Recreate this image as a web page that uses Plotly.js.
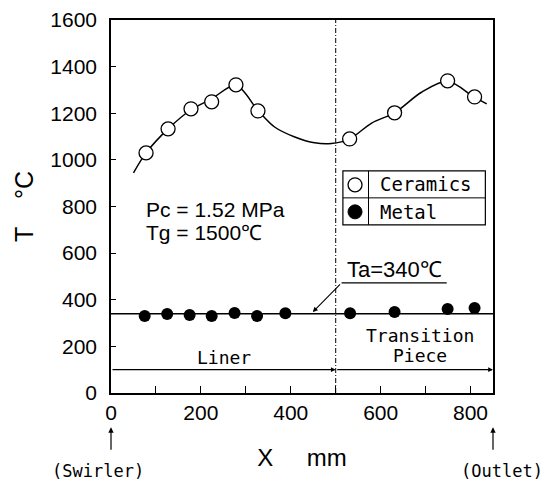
<!DOCTYPE html>
<html>
<head>
<meta charset="utf-8">
<script src="https://cdn.plot.ly/plotly-3.0.1.min.js"></script>
<style>html,body{margin:0;padding:0;background:#fff;}</style>
</head>
<body>
<div id="chart" style="width:550px;height:482px;"></div>
<script>
// ---- data ----
const ceramicsX = [78, 127, 178, 224, 278, 327, 531, 631, 749, 809];
const ceramicsT = [1030, 1133, 1219, 1249, 1322, 1210, 1090, 1202, 1339, 1270];
const metalX = [75, 125, 175, 224, 275, 325, 388, 532, 631, 749, 809];
const metalT = [330, 339, 335, 330, 343, 330, 342, 342, 347, 360, 365];
const fitX = [50, 78, 127, 178, 224, 278, 327, 364, 409, 453, 490, 531, 580, 631, 691, 749, 809, 836];
const fitT = [944, 1030, 1133, 1215, 1262, 1320, 1212, 1141, 1098, 1073, 1070, 1090, 1158, 1202, 1290, 1337, 1268, 1240];
const ambientT = 340;          // Ta = 340 °C
const sectionBoundaryX = 500;  // liner / transition piece boundary
const sectionArrowT = 100;
const xTickVals = [0, 200, 400, 600, 800];
const xTickText = ['0', '200', '400', '600', '800'];
const yTickVals = [0, 200, 400, 600, 800, 1000, 1200, 1400, 1600];
const yTickText = ['0', '200', '400', '600', '800', '1000', '1200', '1400', '1600'];
const xMax = 850;

const numFont = 'Liberation Sans, Arial, sans-serif';
const monoFont = 'DejaVu Sans Mono, Liberation Mono, monospace';

const traces = [
  {x: fitX, y: fitT, mode: 'lines', line: {color: '#000', width: 1.5, shape: 'spline', smoothing: 0.9},
   hoverinfo: 'skip', showlegend: false},
  {x: [0, xMax], y: [ambientT, ambientT], mode: 'lines', line: {color: '#000', width: 1.6},
   hoverinfo: 'skip', showlegend: false},
  {x: ceramicsX, y: ceramicsT, mode: 'markers', name: 'Ceramics',
   marker: {symbol: 'circle', size: 14, color: '#fff', line: {color: '#000', width: 1.3}}},
  {x: metalX, y: metalT, mode: 'markers', name: 'Metal',
   marker: {symbol: 'circle', size: 12, color: '#000', line: {color: '#000', width: 0}}}
];

const legendX0 = 516, legendX1 = 833, legendY0 = 721, legendY1 = 953, legendMidY = 837, legendColX = 573;
const shapes = [
  {type: 'line', xref: 'x', yref: 'paper', x0: sectionBoundaryX, x1: sectionBoundaryX, y0: 0, y1: 1,
   line: {color: '#000', width: 1, dash: '5px,2px,1px,2px'}},
  {type: 'line', xref: 'x', yref: 'y', x0: 513, x1: 747, y0: 472, y1: 472, line: {color: '#000', width: 1.2}},
  {type: 'rect', xref: 'x', yref: 'y', x0: legendX0, x1: legendX1, y0: legendY0, y1: legendY1,
   line: {color: '#000', width: 1.2}, fillcolor: '#fff'},
  {type: 'line', xref: 'x', yref: 'y', x0: legendX0, x1: legendX1, y0: legendMidY, y1: legendMidY,
   line: {color: '#000', width: 1}},
  {type: 'line', xref: 'x', yref: 'y', x0: legendColX, x1: legendColX, y0: legendY0, y1: legendY1,
   line: {color: '#000', width: 1}},
  {type: 'circle', xref: 'x', yref: 'y', xsizemode: 'pixel', ysizemode: 'pixel', xanchor: 543, yanchor: 893,
   x0: -7, x1: 7, y0: -7, y1: 7, line: {color: '#000', width: 1.3}, fillcolor: '#fff'},
  {type: 'circle', xref: 'x', yref: 'y', xsizemode: 'pixel', ysizemode: 'pixel', xanchor: 543, yanchor: 777,
   x0: -7, x1: 7, y0: -7, y1: 7, line: {color: '#000', width: 1}, fillcolor: '#000'}
];

const annotations = [
  {x: 76, y: 788, xref: 'x', yref: 'y', text: 'Pc = 1.52 MPa', showarrow: false, xanchor: 'left', yanchor: 'middle',
   font: {family: numFont, size: 21, color: '#000'}, borderpad: 0},
  {x: 76, y: 689, xref: 'x', yref: 'y', text: 'Tg = 1500℃', showarrow: false, xanchor: 'left', yanchor: 'middle',
   font: {family: numFont, size: 21, color: '#000'}, borderpad: 0},
  {x: 593, y: 895, xref: 'x', yref: 'y', text: 'Ceramics', showarrow: false, xanchor: 'left', yanchor: 'middle',
   font: {family: monoFont, size: 19, color: '#000'}},
  {x: 593, y: 777, xref: 'x', yref: 'y', text: 'Metal', showarrow: false, xanchor: 'left', yanchor: 'middle',
   font: {family: monoFont, size: 19, color: '#000'}},
  {x: 630, y: 528, xref: 'x', yref: 'y', text: 'Ta=340℃', showarrow: false, xanchor: 'center', yanchor: 'middle',
   font: {family: numFont, size: 22, color: '#000'}},
  {x: 449, y: 347, xref: 'x', yref: 'y', ax: 513, ay: 472, axref: 'x', ayref: 'y', text: '', showarrow: true,
   arrowhead: 2, arrowsize: 0.9, arrowwidth: 1.1, arrowcolor: '#000', standoff: 0},
  {x: 251, y: 154, xref: 'x', yref: 'y', text: 'Liner', showarrow: false, xanchor: 'center', yanchor: 'middle',
   font: {family: monoFont, size: 18, color: '#000'}},
  {x: 687, y: 245, xref: 'x', yref: 'y', text: 'Transition', showarrow: false, xanchor: 'center', yanchor: 'middle',
   font: {family: monoFont, size: 18, color: '#000'}},
  {x: 687, y: 162, xref: 'x', yref: 'y', text: 'Piece', showarrow: false, xanchor: 'center', yanchor: 'middle',
   font: {family: monoFont, size: 18, color: '#000'}},
  {x: sectionBoundaryX, y: sectionArrowT, ax: 0, ay: sectionArrowT, xref: 'x', yref: 'y', axref: 'x', ayref: 'y',
   text: '', showarrow: true, arrowhead: 2, arrowsize: 0.8, arrowwidth: 1.2, arrowcolor: '#000', standoff: 0},
  {x: xMax, y: sectionArrowT, ax: sectionBoundaryX, ay: sectionArrowT, xref: 'x', yref: 'y', axref: 'x', ayref: 'y',
   text: '', showarrow: true, arrowhead: 2, arrowsize: 0.8, arrowwidth: 1.2, arrowcolor: '#000', standoff: 0},
  {x: 0, y: -0.092, xref: 'x', yref: 'paper', ax: 0, ay: 24, text: '', showarrow: true,
   arrowhead: 2, arrowsize: 0.9, arrowwidth: 1.2, arrowcolor: '#000', standoff: 0},
  {x: 0, y: -0.21, xref: 'x', yref: 'paper', xshift: -13, text: '(Swirler)', showarrow: false,
   xanchor: 'center', yanchor: 'middle', font: {family: monoFont, size: 17, color: '#000'}},
  {x: xMax, y: -0.092, xref: 'x', yref: 'paper', ax: 0, ay: 24, text: '', showarrow: true,
   arrowhead: 2, arrowsize: 0.9, arrowwidth: 1.2, arrowcolor: '#000', standoff: 0},
  {x: xMax, y: -0.21, xref: 'x', yref: 'paper', xshift: 9, text: '(Outlet)', showarrow: false,
   xanchor: 'center', yanchor: 'middle', font: {family: monoFont, size: 17, color: '#000'}}
];

const layout = {
  width: 550, height: 482,
  margin: {l: 111, r: 57, t: 20, b: 89},
  paper_bgcolor: '#fff', plot_bgcolor: '#fff',
  showlegend: false,
  xaxis: {
    range: [0, xMax], tickvals: xTickVals, ticktext: xTickText,
    ticks: 'inside', ticklen: 7, tickwidth: 1, tickcolor: '#000',
    minor: {dtick: 100, tick0: 0, ticks: 'inside', ticklen: 7, tickwidth: 1, tickcolor: '#000'},
    showline: true, mirror: true, linecolor: '#000', linewidth: 1.6,
    showgrid: false, zeroline: false,
    tickfont: {family: numFont, size: 21, color: '#000'},
    title: {text: 'X\u00a0\u00a0\u00a0\u00a0\u00a0mm', font: {family: numFont, size: 24, color: '#000'}, standoff: 26}
  },
  yaxis: {
    range: [0, 1600], tickvals: yTickVals, ticktext: yTickText,
    ticks: 'inside', ticklen: 5, tickwidth: 1, tickcolor: '#000',
    ticklabelstandoff: 8,
    showline: true, mirror: true, linecolor: '#000', linewidth: 1.8,
    showgrid: false, zeroline: false,
    tickfont: {family: numFont, size: 21, color: '#000'},
    title: {text: 'T\u00a0\u00a0\u00a0\u00a0°C', font: {family: numFont, size: 25, color: '#000'}, standoff: 9}
  },
  shapes: shapes,
  annotations: annotations
};

Plotly.newPlot('chart', traces, layout, {staticPlot: true, displayModeBar: false});
</script>
</body>
</html>
